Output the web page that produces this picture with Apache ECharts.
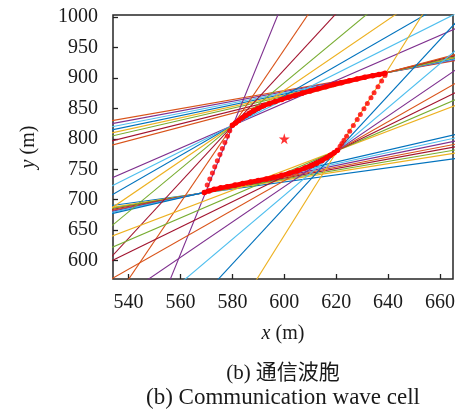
<!DOCTYPE html>
<html>
<head>
<meta charset="utf-8">
<script src="https://cdn.jsdelivr.net/npm/echarts@6/dist/echarts.min.js"></script>
<style>
  html, body { margin: 0; padding: 0; background: #ffffff; }
  #chart { width: 460px; height: 409px; }
</style>
</head>
<body>
<div id="chart"></div>
<script>
// Tick positions
const xTicks = [540, 560, 580, 600, 620, 640, 660];
const yTicks = [600, 650, 700, 750, 800, 850, 900, 950, 1000];

// MATLAB default line colours
const palette = {
  blue: '#0072BD', orange: '#D95319', yellow: '#EDB120', purple: '#7E2F8E',
  green: '#77AC30', cyan: '#4DBEEE', darkred: '#A2142F'
};

// Upper bundle of boundary lines, all through the top-right corner of the cell
const upperPivot = [639, 908];
const upperSlopes = [0.743, 0.790, 0.838, 0.886, 0.933, 0.981, 1.057, 1.124];
const upperColors = ['orange', 'purple', 'cyan', 'blue', 'yellow', 'green', 'darkred', 'orange'];

// Lower bundle, through the bottom-left corner
const lowerPivot = [567, 710];
const lowerSlopes = [0.582, 0.673, 0.724, 0.776, 0.821, 0.872, 0.923, 0.980];
const lowerColors = ['blue', 'yellow', 'green', 'darkred', 'orange', 'purple', 'cyan', 'blue'];

// Fan through the left vertex
const leftPivot = [580.2, 822];
const leftSlopes = [1.85, 2.134, 2.448, 2.9, 3.53, 4.61, 6.28, 10.46];
const leftColors = ['purple', 'cyan', 'blue', 'yellow', 'green', 'darkred', 'orange', 'purple'];

// Fan through the right vertex
const rightPivot = [620.5, 781];
const rightSlopes = [1.62, 1.83, 2.08, 2.42, 2.9, 3.6, 4.6, 6.8];
const rightColors = ['yellow', 'green', 'darkred', 'orange', 'purple', 'cyan', 'blue', 'yellow'];

// Cell boundary samples (m)
const upperEdge = [
  [580.0, 822], [581.2, 826], [582.4, 830], [583.7, 834], [585.1, 838], [586.6, 842],
  [588.2, 846], [590.0, 850], [592.0, 854], [594.2, 857.5], [596.5, 861], [599.0, 864.5],
  [601.6, 868], [604.3, 871.5], [607.0, 875], [610.0, 878.5], [613.0, 882], [616.0, 885.5],
  [619.0, 889], [622.0, 892], [625.0, 895], [628.0, 898], [631.0, 901], [634.0, 903.5],
  [636.5, 905.5], [638.8, 907.5]
];
const lowerEdge = [
  [569.2, 712], [571.0, 714.5], [573.0, 717], [575.5, 719.5], [578.0, 721.5], [581.0, 724],
  [584.0, 726.5], [587.0, 729], [590.0, 731.5], [593.0, 734], [596.0, 737], [599.0, 740],
  [602.0, 743.5], [605.0, 747.5], [608.0, 752], [610.5, 756], [612.5, 760], [614.5, 764.5],
  [616.3, 769], [617.8, 773], [619.2, 777], [620.5, 781]
];
const leftSideDots = [
  [569.2, 712], [570.3, 724], [571.3, 734], [572.3, 744], [573.2, 754], [574.2, 764],
  [575.2, 774], [576.1, 784], [577.1, 794], [578.1, 804], [579.0, 813], [580.0, 822]
];
const rightSideDots = [
  [638.8, 903.9], [637.5, 894.6], [636.1, 885.4], [634.6, 875.5], [633.4, 867.3],
  [632.0, 858.0], [630.7, 849.3], [629.3, 839.9], [628.1, 831.7], [626.6, 821.8],
  [625.2, 812.5], [624.0, 804.3], [623.0, 797.7], [622.2, 792.3], [621.5, 787.8]
];
const centre = [[600, 800]];

const serif = '"Liberation Serif", "DejaVu Serif", serif';
const textColor = '#1a1a1a';

function bundle(pivot, slopes, colors) {
  return slopes.map((s, i) => ({
    type: 'line',
    data: [[480, pivot[1] + s * (480 - pivot[0])], [720, pivot[1] + s * (720 - pivot[0])]],
    symbol: 'none',
    silent: true,
    clip: true,
    lineStyle: { width: 1.1, color: palette[colors[i]] },
    z: 2
  }));
}

const series = [].concat(
  bundle(upperPivot, upperSlopes, upperColors),
  bundle(lowerPivot, lowerSlopes, lowerColors),
  bundle(leftPivot, leftSlopes, leftColors),
  bundle(rightPivot, rightSlopes, rightColors),
  [
    { type: 'line', data: upperEdge, symbol: 'circle', symbolSize: 5.5, showSymbol: true,
      itemStyle: { color: '#ff0000' }, lineStyle: { color: '#ff0000', width: 4.5 }, z: 5, silent: true },
    { type: 'line', data: lowerEdge, symbol: 'circle', symbolSize: 5.5, showSymbol: true,
      itemStyle: { color: '#ff0000' }, lineStyle: { color: '#ff0000', width: 4.5 }, z: 5, silent: true },
    { type: 'scatter', data: leftSideDots, symbol: 'circle', symbolSize: 5,
      itemStyle: { color: '#ff0000' }, z: 5, silent: true },
    { type: 'scatter', data: rightSideDots, symbol: 'circle', symbolSize: 5,
      itemStyle: { color: '#ff0000' }, z: 5, silent: true },
    { type: 'scatter', data: centre, symbolSize: 11,
      symbol: 'path://M50,0 L61,35 L98,35 L68,57 L79,91 L50,70 L21,91 L32,57 L2,35 L39,35 Z',
      itemStyle: { color: '#ff0000' }, z: 6, silent: true }
  ]
);

const plain = v => String(v);

const chart = echarts.init(document.getElementById('chart'), null, { renderer: 'canvas' });
chart.setOption({
  animation: false,
  backgroundColor: '#ffffff',
  grid: { left: 113, right: 7, top: 15, bottom: 130, show: true, borderColor: '#262626', borderWidth: 1.5 },
  xAxis: {
    type: 'value', min: 534, max: 665,
    axisLine: { show: false },
    axisTick: { show: true, inside: true, length: 5, customValues: xTicks, lineStyle: { color: '#222', width: 1.3 } },
    axisLabel: { customValues: xTicks, formatter: plain, margin: 14, fontFamily: serif, fontSize: 20, color: textColor },
    splitLine: { show: false },
    name: '{i|x} (m)', nameLocation: 'middle', nameGap: 45,
    nameTextStyle: { fontFamily: serif, fontSize: 20, color: textColor,
      rich: { i: { fontFamily: serif, fontSize: 20, fontStyle: 'italic', color: textColor } } }
  },
  yAxis: {
    type: 'value', min: 570, max: 1003,
    axisLine: { show: false },
    axisTick: { show: true, inside: true, length: 5, customValues: yTicks, lineStyle: { color: '#222', width: 1.3 } },
    axisLabel: { customValues: yTicks, formatter: plain, margin: 15, fontFamily: serif, fontSize: 20, color: textColor },
    splitLine: { show: false },
    name: '{i|y} (m)', nameLocation: 'middle', nameGap: 74,
    nameTextStyle: { fontFamily: serif, fontSize: 20, color: textColor,
      rich: { i: { fontFamily: serif, fontSize: 20, fontStyle: 'italic', color: textColor } } }
  },
  graphic: [
    { type: 'text', x: 283, y: 373,
      style: { text: '(b) 通信波胞', font: '21px "Liberation Serif", "Noto Sans CJK SC", serif',
        fill: textColor, align: 'center', verticalAlign: 'middle', textAlign: 'center', textVerticalAlign: 'middle' } },
    { type: 'text', x: 283, y: 398,
      style: { text: '(b) Communication wave cell', font: '23px "Liberation Serif", serif',
        fill: textColor, align: 'center', verticalAlign: 'middle', textAlign: 'center', textVerticalAlign: 'middle' } }
  ],
  series: series
});
</script>
</body>
</html>
